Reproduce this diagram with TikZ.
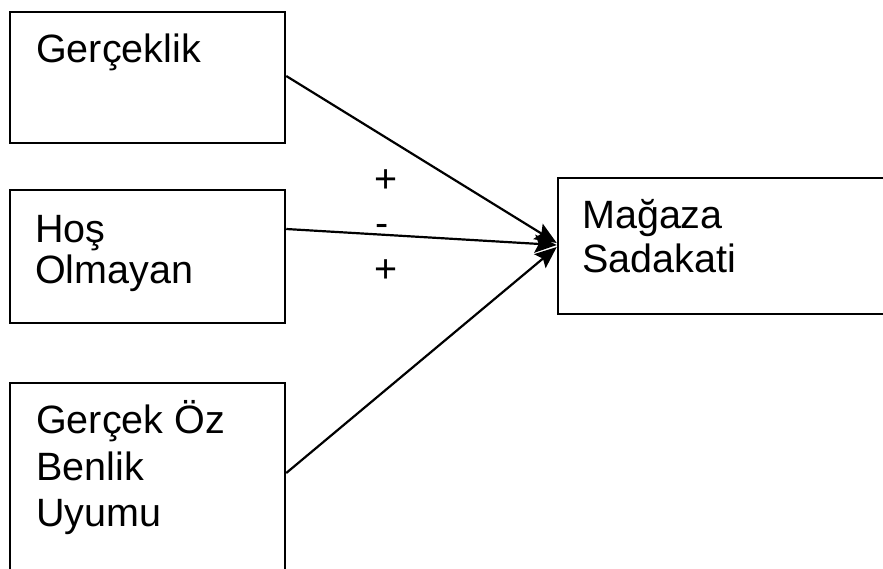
\documentclass[tikz,border=0pt]{standalone}
\usepackage{fontspec}
\setmainfont{Liberation Sans}
\usetikzlibrary{arrows.meta}
\tikzset{
  box/.style={draw=black, line width=2.5pt, rectangle, inner sep=0pt, fill=white},
  lbl/.style={inner sep=0pt, anchor=base west, font=\fontsize{39.5}{47}\selectfont},
  conn/.style={line width=2.2pt, -{Stealth[length=22pt,width=18pt,inset=4pt]}},
}
\begin{document}
\begin{tikzpicture}[x=1pt,y=-1pt]
\useasboundingbox (0,0) rectangle (883,568);
\clip (0,0) rectangle (883,568);
\fill[white] (0,0) rectangle (883,568);
% boxes
\node[box, minimum width=275pt, minimum height=131pt] (b1) at (147.5,77.5) {};
\node[box, minimum width=275pt, minimum height=133pt] (b2) at (147.5,256.5) {};
\node[box, minimum width=275pt, minimum height=217pt] (b3) at (147.5,491.5) {};
\node[box, minimum width=342pt, minimum height=136pt] (b4) at (729,246) {};
% texts
\node[lbl] (t1) at (36,62) {Gerçeklik};
\node[lbl] (t2a) at (35,242) {Hoş};
\node[lbl] (t2b) at (35,283) {Olmayan};
\node[lbl] (t3a) at (36,433) {Gerçek Öz};
\node[lbl] (t3b) at (36,480) {Benlik};
\node[lbl] (t3c) at (36,526) {Uyumu};
\node[lbl] (t4a) at (582,228) {Mağaza};
\node[lbl] (t4b) at (582,272) {Sadakati};
% signs
\node[lbl] (s1) at (374,192) {+};
\node[lbl] (s2) at (375,236) {-};
\node[lbl] (s3) at (374,282) {+};
% connectors
\draw[conn] ([yshift=1.5pt]b1.east) -- ([yshift=3pt]b4.west);
\draw[conn] ([yshift=27.5pt]b2.east) -- ([yshift=1pt]b4.west);
\draw[conn] ([yshift=18.5pt]b3.east) -- ([yshift=-1pt]b4.west);
\end{tikzpicture}
\end{document}
